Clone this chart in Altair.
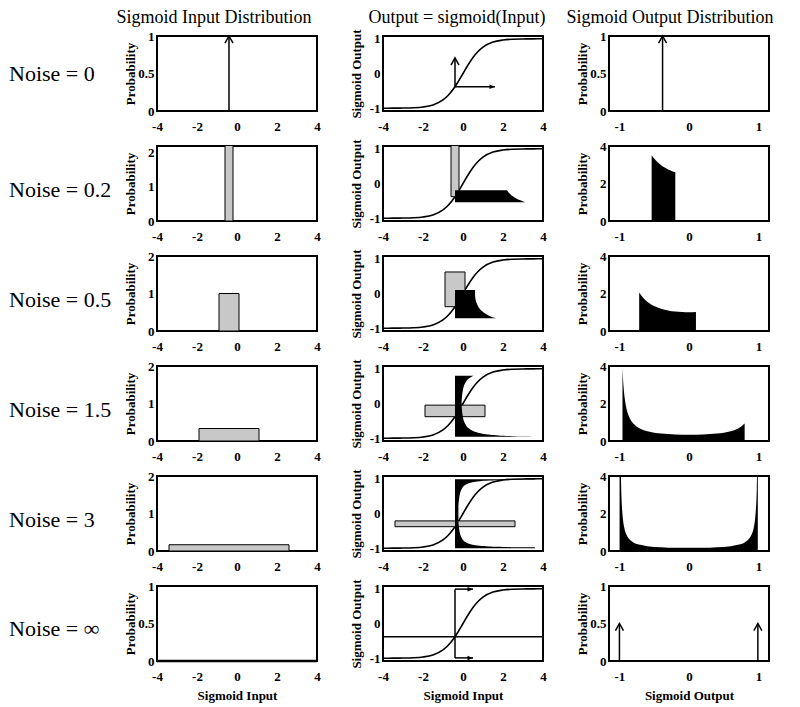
import altair as alt
import pandas as pd

ROW_LABELS = ["Noise = 0", "Noise = 0.2", "Noise = 0.5", "Noise = 1.5", "Noise = 3", "Noise = \u221e"]
COL_TITLES = ["Sigmoid Input Distribution", "Output = sigmoid(Input)", "Sigmoid Output Distribution"]

INPUT_CENTER = -0.4
OUTPUT_CENTER = -0.38
DELTA_PROB = 1.0

# sigmoid curve read from the middle column
SIG_X = [-4, -3.5, -3, -2.5, -2, -1.5, -1, -0.75, -0.5, -0.25, 0, 0.25, 0.5, 0.75, 1, 1.5, 2, 2.5, 3, 3.5, 4]
SIG_Y = [-0.999, -0.998, -0.995, -0.987, -0.964, -0.905, -0.762, -0.635, -0.462, -0.245, 0.0,
         0.245, 0.462, 0.635, 0.762, 0.905, 0.964, 0.987, 0.995, 0.998, 0.999]

# uniform input boxes (noise 0.2, 0.5, 1.5, 3)
BOX_LO = [-0.6, -0.9, -1.9, -3.4]
BOX_HI = [-0.2, 0.1, 1.1, 2.6]
BOX_H = [2.5, 1.0, 0.333, 0.167]

# output densities (sigmoid output value, probability)
OUT02_Y = [-0.537, -0.50, -0.45, -0.40, -0.35, -0.30, -0.25, -0.197]
OUT02_P = [3.51, 3.33, 3.13, 2.98, 2.85, 2.75, 2.67, 2.60]

OUT05_Y = [-0.716, -0.65, -0.60, -0.50, -0.40, -0.30, -0.20, -0.10, 0.0, 0.10]
OUT05_P = [2.05, 1.73, 1.56, 1.33, 1.19, 1.10, 1.04, 1.01, 1.00, 1.01]

OUT15_Y = [-0.956, -0.95, -0.94, -0.92, -0.90, -0.87, -0.85, -0.80, -0.70, -0.60, -0.50, -0.40,
           -0.20, 0.0, 0.20, 0.40, 0.50, 0.60, 0.70, 0.80]
OUT15_P = [3.88, 3.42, 2.86, 2.17, 1.75, 1.37, 1.20, 0.93, 0.65, 0.52, 0.44, 0.40,
           0.35, 0.33, 0.35, 0.40, 0.44, 0.52, 0.65, 0.93]

OUT3_Y = [-0.998, -0.979, -0.975, -0.97, -0.96, -0.95, -0.93, -0.90, -0.85, -0.80, -0.70, -0.60,
          -0.40, -0.20, 0.0, 0.20, 0.40, 0.60, 0.70, 0.80, 0.85, 0.90, 0.93, 0.95, 0.96, 0.97,
          0.975, 0.979, 0.989]
OUT3_P = [4.0, 4.0, 3.38, 2.82, 2.13, 1.71, 1.23, 0.88, 0.60, 0.46, 0.33, 0.26,
          0.20, 0.17, 0.17, 0.17, 0.20, 0.26, 0.33, 0.46, 0.60, 0.88, 1.23, 1.71, 2.13, 2.82,
          3.38, 4.0, 4.0]

OUT_Y = [OUT02_Y, OUT05_Y, OUT15_Y, OUT3_Y]
OUT_P = [OUT02_P, OUT05_P, OUT15_P, OUT3_P]

# arrows
ROW1_UP_TIP = 0.45
ROW1_RIGHT_TIP = 1.6
ROW6_EDGE_Y = [0.99, -0.99]
ROW6_TIP_X = 0.5
ROW6_OUT_X = [-1.0, 0.99]
ROW6_OUT_P = 0.5

IN_DOMAIN = [-4, 4]
IN_TICKS = [-4, -2, 0, 2, 4]
OUT_DOMAIN = [-1.15, 1.15]
OUT_TICKS = [-1, 0, 1]
MID_DOMAIN = [-1.08, 1.08]
MID_TICKS = [-1, 0, 1]
COL1_YMAX = [1, 2.2, 2, 2, 2, 1]
COL1_YTICKS = [[0, 0.5, 1], [0, 1, 2], [0, 1, 2], [0, 1, 2], [0, 1, 2], [0, 0.5, 1]]
COL3_YMAX = [1, 4, 4, 4, 4, 1]
COL3_YTICKS = [[0, 0.5, 1], [0, 2, 4], [0, 2, 4], [0, 2, 4], [0, 2, 4], [0, 0.5, 1]]

# layout / style
W, H = 160, 75
SERIF = "Liberation Serif"
LBL = "'' + datum.value"
CHEVRON = "M-1,1.8L0,0L1,1.8"
HEAD = "M0,0L-2.2,-0.9L-2.2,0.9Z"
GRAY = "#c8c8c8"
LABEL_Y = [38, 44, 44, 44, 44, 43]
TITLE_X = [205, 448, 661]
TOTAL_W = 770


def enc_x(field, dom, ticks, title):
    return alt.X(f"{field}:Q", scale=alt.Scale(domain=dom, nice=False, zero=False),
                 axis=alt.Axis(values=ticks, title=title, labelFlush=False, labelExpr=LBL,
                               labelPadding=9, titlePadding=6))


def enc_y(field, dom, ticks, title):
    return alt.Y(f"{field}:Q", scale=alt.Scale(domain=dom, nice=False, zero=False),
                 axis=alt.Axis(values=ticks, title=title, labelExpr=LBL, labelPadding=3,
                               minExtent=17, maxExtent=17, titlePadding=3))


def lay(df, mtype, ax, ay, xf="x", yf="y", x2f=None, y2f=None, **mk):
    enc = dict(x=enc_x(xf, *ax), y=enc_y(yf, *ay))
    if x2f:
        enc["x2"] = alt.X2(f"{x2f}:Q")
    if y2f:
        enc["y2"] = alt.Y2(f"{y2f}:Q")
    return getattr(alt.Chart(df), "mark_" + mtype)(**mk).encode(**enc)


def chevron(df, ax, ay):
    return lay(df, "point", ax, ay, shape=CHEVRON, filled=False, size=64, stroke="black",
               strokeWidth=1.5, opacity=1)


def head(df, ax, ay):
    return lay(df, "point", ax, ay, shape=HEAD, filled=True, size=25, color="black", opacity=1)


def finish(layers):
    return alt.layer(*layers).properties(width=W, height=H)


def col1(r):
    ax = (IN_DOMAIN, IN_TICKS, "Sigmoid Input" if r == 5 else None)
    ay = ([0, COL1_YMAX[r]], COL1_YTICKS[r], "Probability")
    L = []
    if r == 0:
        L.append(lay(pd.DataFrame({"x": [INPUT_CENTER], "y": [0], "y2": [DELTA_PROB]}), "rule", ax, ay,
                     y2f="y2", color="black", strokeWidth=1.5))
        L.append(chevron(pd.DataFrame({"x": [INPUT_CENTER], "y": [DELTA_PROB]}), ax, ay))
    elif r < 5:
        i = r - 1
        df = pd.DataFrame({"x": [BOX_LO[i]], "x2": [BOX_HI[i]], "y": [0], "y2": [BOX_H[i]]})
        L.append(lay(df, "rect", ax, ay, x2f="x2", y2f="y2", fill=GRAY, stroke="black",
                     strokeWidth=1, clip=True))
    else:
        df = pd.DataFrame({"x": [IN_DOMAIN[0]], "x2": [IN_DOMAIN[1]], "y": [0]})
        L.append(lay(df, "rule", ax, ay, x2f="x2", color="black", strokeWidth=2.5))
    return finish(L)


def col2(r):
    ax = (IN_DOMAIN, IN_TICKS, "Sigmoid Input" if r == 5 else None)
    ay = (MID_DOMAIN, MID_TICKS, "Sigmoid Output")
    L = [lay(pd.DataFrame({"x": SIG_X, "y": SIG_Y}), "line", ax, ay, color="black",
             strokeWidth=1.6, interpolate="monotone")]
    if r == 0:
        L.append(lay(pd.DataFrame({"x": [INPUT_CENTER], "y": [OUTPUT_CENTER], "y2": [ROW1_UP_TIP]}),
                     "rule", ax, ay, y2f="y2", color="black", strokeWidth=1.5))
        L.append(chevron(pd.DataFrame({"x": [INPUT_CENTER], "y": [ROW1_UP_TIP]}), ax, ay))
        L.append(lay(pd.DataFrame({"x": [INPUT_CENTER], "x2": [ROW1_RIGHT_TIP], "y": [OUTPUT_CENTER]}),
                     "rule", ax, ay, x2f="x2", color="black", strokeWidth=1.5))
        L.append(head(pd.DataFrame({"x": [ROW1_RIGHT_TIP], "y": [OUTPUT_CENTER]}), ax, ay))
    elif r < 5:
        i = r - 1
        df = pd.DataFrame({"x": [BOX_LO[i]], "x2": [BOX_HI[i]], "y": [OUTPUT_CENTER],
                           "y2": [OUTPUT_CENTER + BOX_H[i]]})
        L.append(lay(df, "rect", ax, ay, x2f="x2", y2f="y2", fill=GRAY, stroke="black",
                     strokeWidth=1, clip=True))
        dfa = pd.DataFrame({"y": OUT_Y[i], "x": [INPUT_CENTER + p for p in OUT_P[i]],
                            "x0": [INPUT_CENTER] * len(OUT_Y[i])})
        L.append(lay(dfa, "area", ax, ay, x2f="x0", orient="horizontal", color="black",
                     interpolate="monotone", clip=True, opacity=1))
    else:
        L.append(lay(pd.DataFrame({"x": [IN_DOMAIN[0]], "x2": [IN_DOMAIN[1]], "y": [OUTPUT_CENTER]}),
                     "rule", ax, ay, x2f="x2", color="black", strokeWidth=1.5))
        L.append(lay(pd.DataFrame({"x": [INPUT_CENTER], "y": [ROW6_EDGE_Y[1]], "y2": [ROW6_EDGE_Y[0]]}),
                     "rule", ax, ay, y2f="y2", color="black", strokeWidth=1.5))
        L.append(lay(pd.DataFrame({"x": [INPUT_CENTER] * 2, "x2": [ROW6_TIP_X] * 2, "y": ROW6_EDGE_Y}),
                     "rule", ax, ay, x2f="x2", color="black", strokeWidth=1.5))
        L.append(head(pd.DataFrame({"x": [ROW6_TIP_X] * 2, "y": ROW6_EDGE_Y}), ax, ay))
    return finish(L)


def col3(r):
    ax = (OUT_DOMAIN, OUT_TICKS, "Sigmoid Output" if r == 5 else None)
    ay = ([0, COL3_YMAX[r]], COL3_YTICKS[r], "Probability")
    L = []
    if r == 0:
        L.append(lay(pd.DataFrame({"x": [OUTPUT_CENTER], "y": [0], "y2": [DELTA_PROB]}), "rule", ax, ay,
                     y2f="y2", color="black", strokeWidth=1.5))
        L.append(chevron(pd.DataFrame({"x": [OUTPUT_CENTER], "y": [DELTA_PROB]}), ax, ay))
    elif r < 5:
        i = r - 1
        dfa = pd.DataFrame({"x": OUT_Y[i], "y": OUT_P[i], "y0": [0] * len(OUT_Y[i])})
        L.append(lay(dfa, "area", ax, ay, y2f="y0", color="black", interpolate="monotone",
                     clip=True, opacity=1))
    else:
        L.append(lay(pd.DataFrame({"x": ROW6_OUT_X, "y": [0, 0], "y2": [ROW6_OUT_P] * 2}), "rule", ax, ay,
                     y2f="y2", color="black", strokeWidth=1.5))
        L.append(chevron(pd.DataFrame({"x": ROW6_OUT_X, "y": [ROW6_OUT_P] * 2}), ax, ay))
    return finish(L)


def label_panel(r):
    df = pd.DataFrame({"t": [ROW_LABELS[r]]})
    return alt.Chart(df).mark_text(align="left", baseline="middle", font=SERIF, fontSize=22,
                                   color="black").encode(
        text="t:N", x=alt.value(0), y=alt.value(LABEL_Y[r])
    ).properties(width=110, height=H, view=alt.ViewBackground(stroke="transparent"))


title_df = pd.DataFrame({"t": COL_TITLES, "px": TITLE_X})
title_row = alt.Chart(title_df).mark_text(
    align="center", baseline="top", font=SERIF, fontSize=18, color="black"
).encode(
    text="t:N", x=alt.X("px:Q", scale=None, axis=None), y=alt.value(0)
).properties(width=TOTAL_W, height=18, view=alt.ViewBackground(stroke="transparent"))

rows = []
for r in range(6):
    inner = alt.hconcat(col1(r), col2(r), col3(r), spacing=27)
    rows.append(alt.hconcat(label_panel(r), inner, spacing=3))

grid = alt.vconcat(*rows, spacing=3)

chart = alt.vconcat(title_row, grid, spacing=-1).properties(padding=0).configure_view(
    stroke="black", strokeWidth=2
).configure_axis(
    labelFont=SERIF, labelFontWeight="bold", labelFontSize=13, labelColor="black",
    titleFont=SERIF, titleFontWeight="bold", titleFontSize=13, titleColor="black",
    grid=False, ticks=False, domain=False
)

chart.save("out.html", embed_options={"renderer": "svg", "actions": False})
